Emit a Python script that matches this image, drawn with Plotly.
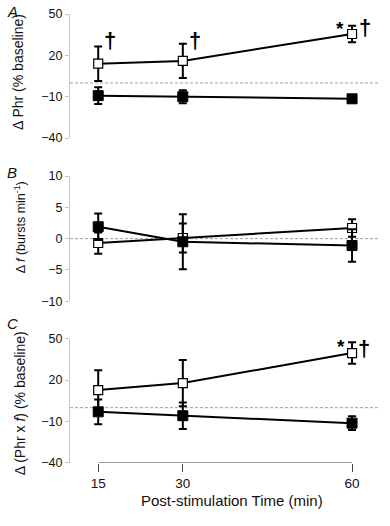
import plotly.graph_objects as go

# ---- data ----
times = [15, 30, 60]
tick_labels = ["15", "30", "60"]

a_open = [14.0, 16.0, 35.5]
a_open_err = [12.5, 12.5, 6.0]
a_filled = [-9.2, -10.0, -11.5]
a_filled_err = [6.0, 4.7, 1.8]

b_open = [-0.7, 0.1, 1.7]
b_open_err = [1.7, 2.3, 1.4]
b_filled = [1.9, -0.5, -1.1]
b_filled_err = [2.1, 4.4, 2.6]

c_open = [12.7, 17.8, 39.5]
c_open_err = [14.4, 16.7, 7.8]
c_filled = [-3.0, -5.8, -11.2]
c_filled_err = [9.0, 9.6, 5.0]

y_titles = ["Δ Phr (% baseline)",
            "Δ <i>f</i> (bursts min<sup>-1</sup>)",
            "Δ (Phr x <i>f</i>) (% baseline)"]
panel_letters = ["A", "B", "C"]
x_title = "Post-stimulation Time (min)"

FONT = "Liberation Sans, Arial, sans-serif"

panels = [
    (a_open, a_open_err, a_filled, a_filled_err, [-40, 50], [-40, -10, 20, 50]),
    (b_open, b_open_err, b_filled, b_filled_err, [-10, 10], [-10, -5, 0, 5, 10]),
    (c_open, c_open_err, c_filled, c_filled_err, [-40, 50], [-40, -10, 20, 50]),
]
domains = [[0.7236, 1.0], [0.3604, 0.639], [0.0, 0.2772]]

fig = go.Figure()

for i, (op, ope, fi, fie, yr, yt) in enumerate(panels):
    xa = "x" if i == 0 else f"x{i+1}"
    ya = "y" if i == 0 else f"y{i+1}"
    eb = dict(type="data", color="black", thickness=2, width=4)
    fig.add_trace(go.Scatter(
        x=times, y=op, error_y=dict(array=ope, **eb), mode="lines+markers",
        marker=dict(symbol="square", size=9, color="white",
                    line=dict(color="black", width=1.2)),
        line=dict(color="black", width=2), xaxis=xa, yaxis=ya, showlegend=False))
    fig.add_trace(go.Scatter(
        x=times, y=fi, error_y=dict(array=fie, **eb), mode="lines+markers",
        marker=dict(symbol="square", size=10, color="black",
                    line=dict(color="black", width=1)),
        line=dict(color="black", width=2), xaxis=xa, yaxis=ya, showlegend=False))

    yk = "yaxis" if i == 0 else f"yaxis{i+1}"
    xk = "xaxis" if i == 0 else f"xaxis{i+1}"
    fig.layout[yk] = dict(
        domain=domains[i], range=yr, tickvals=yt, anchor=xa, automargin=False,
        showline=True, linecolor="#c8c8c8", linewidth=1,
        ticks="outside", ticklen=4, tickcolor="#c8c8c8",
        showgrid=False, zeroline=False,
        tickfont=dict(family=FONT, size=12.5, color="#111"))
    xcfg = dict(domain=[0, 1], range=[10, 64.6], anchor=ya, automargin=False,
                showgrid=False, zeroline=False, showline=False)
    if i < 2:
        xcfg.update(showticklabels=False, ticks="")
    else:
        xcfg.update(tickvals=times, ticktext=tick_labels, ticks="outside",
                    ticklen=8, tickcolor="#444", tickwidth=1,
                    tickfont=dict(family=FONT, size=13.5, color="#111"))
    fig.layout[xk] = xcfg

    # dashed zero line
    fig.add_shape(type="line", xref=f"{xa} domain", yref=ya, x0=0, x1=1,
                  y0=0, y1=0, layer="below",
                  line=dict(color="#a0a0a0", width=1, dash="3px,2px"))

# range-frame x axis line for bottom panel
fig.add_shape(type="line", xref="x3", yref="y3", x0=min(times), x1=max(times),
              y0=-40, y1=-40, line=dict(color="#444", width=1))

annos = []
PW, PH, L0, B0 = 308, 448.7, 70, 462.7
for L, ypx in zip(panel_letters, [12, 172, 323]):
    annos.append(dict(text=f"<i>{L}</i>", xref="paper", yref="paper",
                      x=(12 - L0) / PW, y=(B0 - ypx) / PH,
                      xanchor="center", yanchor="middle", showarrow=False,
                      font=dict(family=FONT, size=15, color="#111")))

# y-axis titles (rotated)
for t, (xpx, ypx, fs) in zip(y_titles, [(18, 72, 14), (20, 227, 12.5),
                                          (20, 403, 14)]):
    annos.append(dict(text=t, xref="paper", yref="paper",
                      x=(xpx - L0) / PW, y=(B0 - ypx) / PH, textangle=-90,
                      xanchor="center", yanchor="middle", showarrow=False,
                      font=dict(family=FONT, size=fs, color="#111")))

# x-axis title
annos.append(dict(text=x_title, xref="paper", yref="paper",
                  x=(232 - L0) / PW, y=(B0 - 500) / PH,
                  xanchor="center", yanchor="middle", showarrow=False,
                  font=dict(family=FONT, size=15, color="#111")))

# significance symbols
sig = [
    ("x", "y", 15, 31.0, 12, "†", 22),
    ("x", "y", 30, 31.0, 12, "†", 22),
    ("x", "y", 60, 39.5, -12, "*", 19),
    ("x", "y", 60, 40.0, 13, "†", 22),
    ("x3", "y3", 60, 44.0, -11, "*", 19),
    ("x3", "y3", 60, 43.0, 12, "†", 22),
]
for xa, ya, xv, yv, xs, t, fs in sig:
    annos.append(dict(text=f"<b>{t}</b>", xref=xa, yref=ya, x=xv, y=yv,
                      xshift=xs, showarrow=False, xanchor="center",
                      yanchor="middle",
                      font=dict(family=FONT, size=fs, color="black")))

fig.update_layout(
    width=390, height=526,
    margin=dict(l=70, r=12, t=14, b=63.3),
    plot_bgcolor="white", paper_bgcolor="white",
    annotations=annos,
    font=dict(family=FONT, color="#111"),
)

# remove the default 8px page margin so the figure sits at the window origin
fig.write_html("out.html", config={"displayModeBar": False},
               post_script="document.body.style.margin='0';"
                           "document.body.style.overflow='hidden';")
